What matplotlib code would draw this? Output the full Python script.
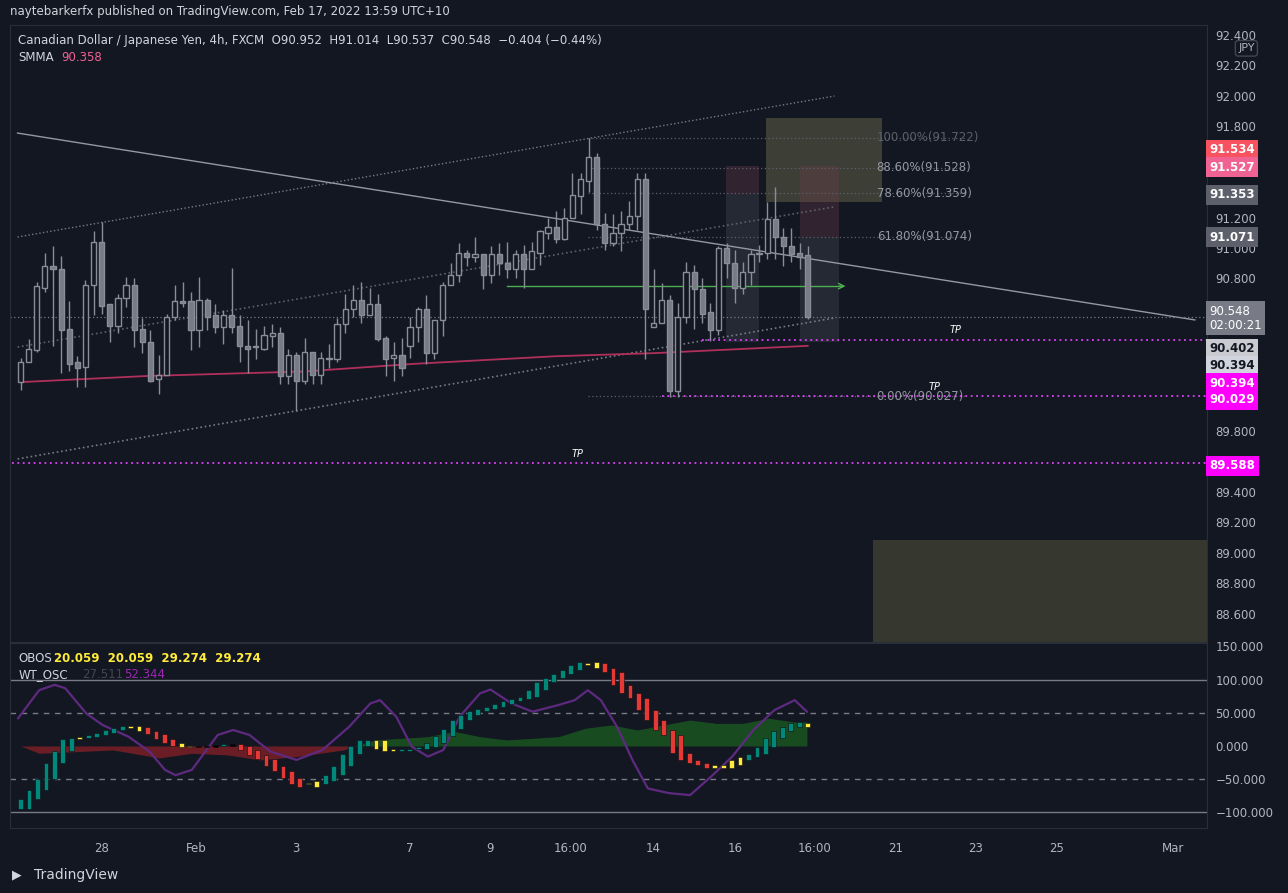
import numpy as np
import matplotlib
matplotlib.use("Agg")
import matplotlib.pyplot as plt
from matplotlib.patches import Rectangle

BG = "#131722"
TXT = "#b2b5be"
plt.rcParams["font.family"] = ["DejaVu Sans"]

# ---- 4h candles CADJPY (index = bar number) ----
O = [90.12, 90.25, 90.33, 90.74, 90.88, 90.86, 90.47, 90.25, 90.22, 90.76,
     91.04, 90.63, 90.49, 90.67, 90.76, 90.47, 90.38, 90.14, 90.17, 90.55,
     90.65, 90.65, 90.46, 90.66, 90.56, 90.48, 90.56, 90.49, 90.36, 90.35,
     90.34, 90.42, 90.44, 90.16, 90.30, 90.13, 90.32, 90.17, 90.27, 90.27,
     90.50, 90.60, 90.66, 90.56, 90.63, 90.41, 90.28, 90.30, 90.36, 90.48,
     90.60, 90.31, 90.53, 90.76, 90.82, 90.97, 90.94, 90.96, 90.82, 90.96,
     90.90, 90.86, 90.96, 90.86, 90.97, 91.10, 91.14, 91.06, 91.20, 91.34,
     91.44, 91.60, 91.16, 91.03, 91.10, 91.16, 91.21, 91.45, 90.48, 90.51,
     90.66, 90.06, 90.55, 90.84, 90.73, 90.58, 90.46, 91.00, 90.90, 90.74,
     90.84, 90.96, 90.97, 91.19, 91.07, 91.01, 90.97, 90.952]
H = [90.28, 90.40, 90.78, 90.97, 91.01, 90.95, 90.65, 90.29, 90.79, 91.11,
     91.17, 90.63, 90.70, 90.81, 90.80, 90.54, 90.46, 90.30, 90.57, 90.76,
     90.78, 90.71, 90.81, 90.67, 90.63, 90.59, 90.87, 90.56, 90.53, 90.47,
     90.49, 90.50, 90.48, 90.34, 90.32, 90.41, 90.32, 90.32, 90.37, 90.54,
     90.70, 90.76, 90.78, 90.74, 90.70, 90.42, 90.38, 90.41, 90.55, 90.61,
     90.69, 90.53, 90.78, 90.90, 91.03, 90.99, 91.07, 90.96, 91.01, 91.03,
     91.04, 90.99, 91.02, 91.04, 91.12, 91.20, 91.24, 91.26, 91.49, 91.49,
     91.72, 91.62, 91.23, 91.22, 91.24, 91.31, 91.49, 91.49, 90.86, 90.77,
     90.69, 90.64, 90.91, 90.89, 90.80, 90.64, 91.01, 91.03, 90.99, 90.91,
     90.99, 91.02, 91.30, 91.40, 91.13, 91.13, 91.03, 91.014]
L = [90.07, 90.25, 90.32, 90.71, 90.36, 90.18, 90.19, 90.09, 90.09, 90.56,
     90.57, 90.38, 90.44, 90.61, 90.35, 90.31, 90.12, 90.04, 90.17, 90.53,
     90.61, 90.33, 90.35, 90.46, 90.44, 90.37, 90.44, 90.25, 90.18, 90.27,
     90.33, 90.35, 90.11, 90.11, 89.93, 90.11, 90.11, 90.11, 90.21, 90.25,
     90.44, 90.55, 90.51, 90.56, 90.39, 90.16, 90.13, 90.16, 90.28, 90.38,
     90.24, 90.27, 90.42, 90.76, 90.78, 90.88, 90.91, 90.73, 90.77, 90.82,
     90.80, 90.80, 90.74, 90.86, 90.89, 91.06, 91.03, 91.05, 91.20, 91.22,
     91.37, 91.12, 90.99, 91.01, 90.98, 91.12, 91.12, 90.27, 90.48, 90.51,
     90.02, 90.02, 90.51, 90.47, 90.51, 90.39, 90.43, 90.80, 90.64, 90.70,
     90.76, 90.91, 90.93, 90.93, 90.88, 90.91, 90.86, 90.537]
C = [90.25, 90.34, 90.75, 90.88, 90.86, 90.46, 90.24, 90.21, 90.76, 91.04,
     90.62, 90.49, 90.67, 90.76, 90.46, 90.38, 90.13, 90.17, 90.55, 90.65,
     90.64, 90.46, 90.66, 90.55, 90.48, 90.56, 90.48, 90.36, 90.34, 90.35,
     90.43, 90.44, 90.16, 90.30, 90.13, 90.32, 90.17, 90.28, 90.27, 90.50,
     90.60, 90.66, 90.56, 90.63, 90.40, 90.27, 90.30, 90.21, 90.48, 90.60,
     90.31, 90.53, 90.76, 90.82, 90.97, 90.94, 90.96, 90.82, 90.96, 90.90,
     90.86, 90.96, 90.86, 90.98, 91.11, 91.14, 91.06, 91.20, 91.35, 91.45,
     91.60, 91.16, 91.03, 91.10, 91.16, 91.21, 91.45, 90.60, 90.51, 90.66,
     90.06, 90.55, 90.84, 90.73, 90.57, 90.46, 91.00, 90.90, 90.74, 90.84,
     90.96, 90.97, 91.19, 91.07, 91.01, 90.96, 90.94, 90.548]

# SMMA anchor points (bar index, price)
smma_x = [0, 15.5, 35, 48.5, 66, 78, 97]
smma_y = [90.12, 90.16, 90.19, 90.24, 90.29, 90.31, 90.358]

# Oscillator (WT) bars and signal line
wt = [-80, -67, -49, -26, -8, 10, 12, 14, 17, 20, 24, 27, 30, 28, 22, 18, 10, 4, 0, -2,
      -2, -1, 0, 1, 3, 0, -6, -14, -20, -30, -38, -48, -57, -62, -58, -52, -44, -30, -12, 0,
      9, 9, -5, -8, -8, -5, -4, -2, 5, 15, 26, 39, 47, 52, 55, 58, 63, 68, 70, 74,
      84, 96, 102, 109, 114, 122, 127, 125, 117, 112, 92, 79, 72, 54, 39, 24, 16, -11, -21, -26,
      -28, -33, -33, -28, -21, -16, -12, -1, 12, 22, 29, 34, 36, 28]
yellow_bars = [7, 13, 14, 19, 20, 34, 35, 42, 43, 44, 67, 68, 82, 83, 84, 85, 93]
black_bars = [21, 22, 23, 25]
sig_x = [-0.3, 2.3, 4.2, 5.5, 8.1, 10.1, 13.3, 15.9, 17.8, 19.1, 21.1, 24.3, 26.2, 28.2, 30.8,
         34, 37.2, 40.5, 43.1, 44.3, 46.3, 48.2, 50.2, 52.1, 54.1, 56.6, 57.9, 60.5, 63.1, 66.3,
         68.3, 69.9, 71.5, 73.5, 75.4, 77.3, 79.9, 82.5, 85.1, 87.7, 90.3, 92.9, 95.4, 96.9]
sig_y = [41.7, 84, 92, 87, 49, 31.6, 14, -8.5, -36, -44, -36, 16.6, 24, 16.6, -8.5,
         -21, -6, 29, 64, 69, 44, -1, -16, -6, 44, 79, 85, 64, 51.6, 61.7,
         69, 84, 69, 29, -21, -64, -71, -74, -46, -16, 24, 54, 69, 51.6]
red_x = [0, 2.3, 11.4, 17.1, 21.1, 25.6, 29.5, 34, 39.8, 41.1]
red_y = [0, -11, -6, -18, -11, -13.6, -21, -16, -6, 0]
grn_x = [41.1, 43.7, 50.2, 53.4, 56.6, 59.9, 66.3, 69.6, 72.8, 76, 79.3, 82.5, 85.7, 89, 92.2, 95.4, 96.9]
grn_y = [0, 9, 14, 22, 14, 9, 14, 26.6, 31.6, 24, 31.6, 39, 34, 34, 41.7, 36, 36]

date_pos = [10, 21.6, 33.9, 47.9, 57.9, 67.8, 78, 88, 97.8, 107.8, 117.7, 127.7, 142]
date_lbl = ["28", "Feb", "3", "7", "9", "16:00", "14", "16", "16:00", "21", "23", "25", "Mar"]

fib_lvls = [91.722, 91.528, 91.359, 91.074, 90.027]
fib_txt = ["100.00%(91.722)", "88.60%(91.528)", "78.60%(91.359)", "61.80%(91.074)", "0.00%(90.027)"]

XMAX = 146.2
fig = plt.figure(figsize=(12.88, 8.93), dpi=100, facecolor=BG)
ax = fig.add_axes([10 / 1288, 1 - 642 / 893, 1197 / 1288, 617 / 893], facecolor=BG)
ox = fig.add_axes([10 / 1288, 1 - 828 / 893, 1197 / 1288, 185 / 893], facecolor=BG, sharex=ax)

for a in (ax, ox):
    for s in a.spines.values():
        s.set_color("#2a2e39")
    a.yaxis.tick_right()
    a.tick_params(colors=TXT, labelsize=8.5, length=0, pad=6)

# --- boxes (position tool drawings) ---
ax.add_patch(Rectangle((91.9, 91.30), 14.3, 0.553, fc="#3d3f36", ec="none", zorder=1))
ax.add_patch(Rectangle((105, 88.3), 42, 0.785, fc="#36382f", ec="none", zorder=1))
for x0, w, ptop in [(86.9, 4.1, 91.354), (96.0, 4.9, 91.07)]:
    ax.add_patch(Rectangle((x0, 90.38), w, ptop - 90.38, fc="#787b86", alpha=0.18, ec="none", zorder=1))
    ax.add_patch(Rectangle((x0, ptop), w, 91.54 - ptop, fc="#6b3a4c", alpha=0.35, ec="none", zorder=1))

# channel + trend lines
ax.plot([-0.37, 100.3], [91.072, 91.997], ":", color="#787b86", lw=1, zorder=2)
ax.plot([-0.37, 100.3], [90.35, 91.27], ":", color="#5d606b", lw=1.2, zorder=2)
ax.plot([-0.37, 100.3], [89.616, 90.541], ":", color="#787b86", lw=1.2, zorder=2)
ax.plot([-0.37, 144.7], [91.754, 90.528], "-", color="#9598a1", lw=1, zorder=2)
ax.axhline(90.548, color="#787b86", ls=(0, (1, 2)), lw=0.9, zorder=2)

for lv, t in zip(fib_lvls, fib_txt):
    ax.plot([69.9, 116.4], [lv, lv], ls=(0, (1, 2)), color="#5d606b", lw=0.9, zorder=2)
    ax.text(105.5, lv, t, color="#5d606b" if lv > 91.7 else "#9598a1", fontsize=8.5,
            va="center", ha="left", zorder=5)

ax.plot([59.9, 101.2], [90.75, 90.75], color="#4caf50", lw=1, zorder=3)
ax.annotate("", xy=(102, 90.75), xytext=(100.5, 90.75),
            arrowprops=dict(arrowstyle="->", color="#4caf50", lw=1))

MAG = "#e040fb"
for x0, lv in [(84, 90.394), (79, 90.029), (-1, 89.588)]:
    ax.plot([x0, XMAX], [lv, lv], ls=(0, (1, 2)), color=MAG, lw=1.3, zorder=2)
for x, y in [(115.2, 90.44), (112.6, 90.07), (68.6, 89.63)]:
    ax.text(x, y, "TP", color="white", fontsize=7, style="italic", ha="center", zorder=5)

# SMMA
ax.plot(smma_x, smma_y, color="#b0305c", lw=1.3, zorder=3)

# candles
idx = np.arange(len(O))
ax.vlines(idx, L, H, color="#8a8d97", lw=1, zorder=4)
for i in idx:
    up = C[i] >= O[i]
    lo, hi = min(O[i], C[i]), max(O[i], C[i])
    ax.add_patch(Rectangle((i - 0.32, lo), 0.64, max(hi - lo, 0.006),
                           fc=BG if up else "#787b86", ec="#8a8d97", lw=1, zorder=5))

ax.set_xlim(-1.3, XMAX)
ax.set_ylim(88.415, 92.463)
ticks = [88.6, 88.8, 89.0, 89.2, 89.4, 89.8, 90.8, 91.0, 91.2, 91.8, 92.0, 92.2, 92.4]
ax.set_yticks(ticks)
ax.set_yticklabels([f"{t:.3f}" for t in ticks])
plt.setp(ax.get_xticklabels(), visible=False)

# right side price labels
lbls = [(91.643, "91.534", "#f7525f", "white"), (91.531, "91.527", "#f06292", "white"),
        (91.348, "91.353", "#5d606b", "white"), (91.072, "91.071", "#5d606b", "white"),
        (90.54, "90.548\n02:00:21", "#787b86", "white"), (90.338, "90.402", "#c9cbd1", "#131722"),
        (90.226, "90.394", "#d1d4dc", "#131722"), (90.114, "90.394", "#ff00ff", "white"),
        (90.003, "90.029", "#ff00ff", "white"), (89.57, "89.588", "#ff00ff", "white")]
tr = ax.get_yaxis_transform()
for y, t, bc, fc in lbls:
    ax.text(1.002, y, t, transform=tr, color=fc, fontsize=8.5, va="center", ha="left",
            fontweight="bold" if "\n" not in t else "normal", linespacing=1.1,
            bbox=dict(boxstyle="square,pad=0.28", fc=bc, ec="none"), clip_on=False, zorder=10)
ax.text(1.026, 92.31, "JPY", transform=tr, color=TXT, fontsize=8, va="center",
        bbox=dict(boxstyle="round,pad=0.25", fc=BG, ec="#434651"), clip_on=False, zorder=11)

# legends
ax.text(0.007, 0.975, "Canadian Dollar / Japanese Yen, 4h, FXCM  O90.952  H91.014  L90.537  C90.548  \u22120.404 (\u22120.44%)",
        transform=ax.transAxes, color="#d1d4dc", fontsize=8.5, va="center")
ax.text(0.007, 0.948, "SMMA", transform=ax.transAxes, color="#d1d4dc", fontsize=8.5, va="center")
ax.text(0.043, 0.948, "90.358", transform=ax.transAxes, color="#f06292", fontsize=8.5, va="center")

# oscillator
for lv, st in [(100, "-"), (-100, "-"), (50, (0, (4, 4))), (-50, (0, (4, 4)))]:
    ox.axhline(lv, color="#787b86", ls=st, lw=1, zorder=1)
ox.fill_between(red_x, red_y, 0, color="#7a1f25", alpha=0.85, lw=0, zorder=2)
ox.fill_between(grn_x, grn_y, 0, color="#1b5e20", alpha=0.75, lw=0, zorder=2)
ox.plot(sig_x, sig_y, color="#5e2a80", lw=1.6, zorder=3)
wx = np.linspace(0, 97, len(wt))
for i, v in enumerate(wt):
    ref = wt[i - 2] if i >= 2 else -95
    if i in yellow_bars:
        col = "#ffeb3b"
    elif i in black_bars:
        col = "#000000"
    else:
        col = "#00897b" if v >= wt[max(i - 1, 0)] else "#e53935"
    lo, hi = min(ref, v), max(ref, v)
    ox.add_patch(Rectangle((wx[i] - 0.3, lo), 0.6, max(hi - lo, 2.5), fc=col, ec="#0b0d12", lw=0.4, zorder=4))
ox.set_ylim(-123.5, 155)
ot = [150, 100, 50, 0, -50, -100]
ox.set_yticks(ot)
ox.set_yticklabels([f"{t:.3f}".replace("-", "\u2212") for t in ot])
ox.set_xticks(date_pos)
ox.set_xticklabels(date_lbl)
ox.tick_params(axis="x", pad=10)
ox.text(0.007, 0.915, "OBOS", transform=ox.transAxes, color="#d1d4dc", fontsize=8.5, va="center")
ox.text(0.037, 0.915, "20.059  20.059  29.274  29.274", transform=ox.transAxes, color="#ffeb3b",
        fontsize=8.5, va="center", fontweight="bold")
ox.text(0.007, 0.83, "WT_OSC", transform=ox.transAxes, color="#d1d4dc", fontsize=8.5, va="center")
ox.text(0.06, 0.83, "27.511", transform=ox.transAxes, color="#434651", fontsize=8.5, va="center")
ox.text(0.095, 0.83, "52.344", transform=ox.transAxes, color="#9c27b0", fontsize=8.5, va="center")

fig.text(10 / 1288, 1 - 12 / 893, "naytebarkerfx published on TradingView.com, Feb 17, 2022 13:59 UTC+10",
         color="#d1d4dc", fontsize=8.5, va="center")
fig.text(34 / 1288, 1 - 875 / 893, "TradingView", color="#d1d4dc", fontsize=10, va="center")
fig.text(12 / 1288, 1 - 875 / 893, "\u25b6", color="#d1d4dc", fontsize=9, va="center")

fig.savefig("out.png", dpi=100, facecolor=BG)
